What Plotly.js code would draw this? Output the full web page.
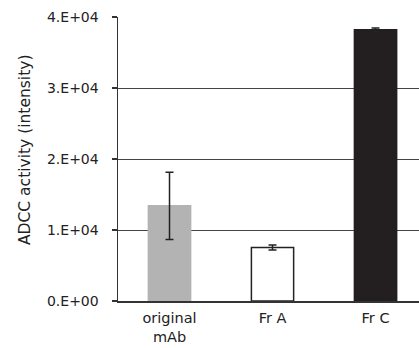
<!DOCTYPE html>
<html>
<head>
<meta charset="utf-8">
<script src="https://cdn.plot.ly/plotly-3.0.1.min.js"></script>
<style>html,body{margin:0;padding:0;background:#fff;}#chart{width:419px;height:348px;}</style>
</head>
<body>
<div id="chart"></div>
<script>
var categories = ['original<br>mAb', 'Fr A', 'Fr C'];
var values = [13400, 7550, 38200];
var errors = [4750, 350, 250];
var barColors = ['#b3b3b3', '#ffffff', '#231f20'];
var barLineColors = ['#b3b3b3', '#222222', '#231f20'];
var yTickVals = [0, 10000, 20000, 30000, 40000];
var yTickText = ['0.E+00', '1.E+04', '2.E+04', '3.E+04', '4.E+04'];

var trace = {
  type: 'bar',
  x: [0, 1, 2],
  y: values,
  marker: {color: barColors, line: {color: barLineColors, width: 1.5}},
  error_y: {type: 'data', array: errors, visible: true, color: '#222', thickness: 1.5, width: 4},
  hoverinfo: 'none'
};

var layout = {
  width: 419, height: 348,
  margin: {l: 118, r: 0, t: 17, b: 47, pad: 0},
  paper_bgcolor: '#fff', plot_bgcolor: '#fff',
  showlegend: false,
  bargap: 0.59,
  font: {family: 'DejaVu Sans', size: 14, color: '#222'},
  xaxis: {
    range: [-0.5, 2.422],
    tickvals: [0, 1, 2],
    ticktext: categories,
    tickfont: {size: 14.5, color: '#222'},
    ticklabelstandoff: 3,
    showline: true, linecolor: '#333', linewidth: 1.5,
    ticks: '', showgrid: false, zeroline: false,
    fixedrange: true
  },
  yaxis: {
    range: [0, 40000],
    tickvals: yTickVals,
    ticktext: yTickText,
    tickfont: {size: 14, color: '#222'},
    showline: true, linecolor: '#333', linewidth: 1.5,
    ticks: 'outside', ticklen: 5, tickwidth: 1.2, tickcolor: '#333',
    ticklabelstandoff: 10,
    showgrid: true, gridcolor: '#444', gridwidth: 1,
    zeroline: false, fixedrange: true
  },
  annotations: [{
    text: 'ADCC activity (intensity)',
    xref: 'paper', yref: 'paper',
    x: (25 - 118) / 301, y: (301 - 150) / 284,
    xanchor: 'center', yanchor: 'middle',
    textangle: -90, showarrow: false,
    font: {family: 'DejaVu Sans', size: 15.5, color: '#222'}
  }]
};

Plotly.newPlot('chart', [trace], layout, {staticPlot: true, displayModeBar: false});
</script>
</body>
</html>
